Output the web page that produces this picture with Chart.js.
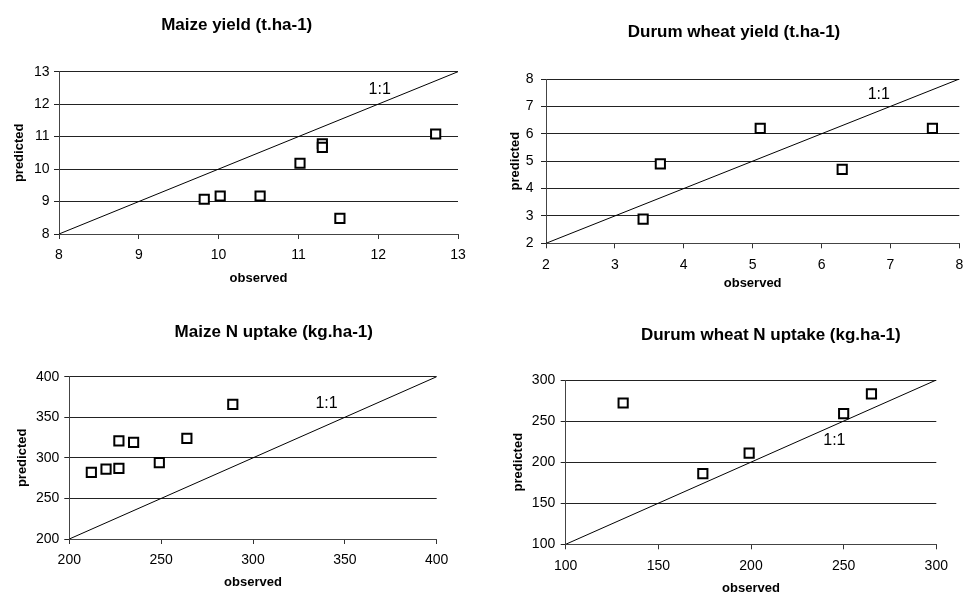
<!DOCTYPE html>
<html>
<head>
<meta charset="utf-8">
<script src="https://cdn.jsdelivr.net/npm/chart.js@4"></script>
<style>
  html, body { margin: 0; padding: 0; background: #fff; overflow: hidden; }
  #wrap { position: relative; width: 963px; height: 594px; overflow: hidden; }
  #wrap canvas { position: absolute; left: 0; top: 0; }
</style>
</head>
<body>
<div id="wrap">
  <canvas id="c1" width="1200" height="594"></canvas>
  <canvas id="c2" width="1200" height="594"></canvas>
  <canvas id="c3" width="1200" height="594"></canvas>
  <canvas id="c4" width="1200" height="594"></canvas>
</div>
<script>
// values
const panelTitles = ['Maize yield (t.ha-1)', 'Durum wheat yield (t.ha-1)', 'Maize N uptake (kg.ha-1)', 'Durum wheat N uptake (kg.ha-1)'];
const xAxisTitle = 'observed';
const yAxisTitle = 'predicted';
const lineLabel = '1:1';

const maizeYieldObs  = [9.82, 10.02, 10.52, 11.02, 11.30, 11.30, 11.52, 12.72];
const maizeYieldPred = [9.07, 9.17, 9.17, 10.18, 10.78, 10.67, 8.48, 11.08];
const durumYieldObs  = [3.41, 3.66, 5.11, 6.30, 7.61];
const durumYieldPred = [2.88, 4.90, 6.20, 4.70, 6.20];
const maizeNObs  = [212, 220, 227, 227, 235, 249, 264, 289];
const maizeNPred = [282, 286, 287, 321, 319, 294, 324, 366];
const durumNObs  = [131, 174, 199, 250, 265];
const durumNPred = [272, 186, 211, 259, 283];

// axis ranges: [min, max, step]
const maizeYieldRange = [8, 13, 1];
const durumYieldRange = [2, 8, 1];
const maizeNRange = [200, 400, 50];
const durumNRange = [100, 300, 50];

// where the "1:1" text sits, in data units
const labelAt = [[11.88, 12.46], [6.67, 7.42], [334, 367], [239, 226.6]];

// page layout of each panel (pixels)
const layouts = [
  { plotL: 59,    plotR: 458,   plotT: 71.7,  plotB: 234,   titleX: 236.7, titleY: 25.5,  xTitleY: 278,   yTitleX: 19.2,  yPad: 4.5 },
  { plotL: 546,   plotR: 959.3, plotT: 79,    plotB: 243.3, titleX: 734,   titleY: 32.5,  xTitleY: 283,   yTitleX: 515,   yPad: 7.5 },
  { plotL: 69.3,  plotR: 436.7, plotT: 376.7, plotB: 539,   titleX: 273.8, titleY: 332.5, xTitleY: 582.7, yTitleX: 22.8,  yPad: 5 },
  { plotL: 565.7, plotR: 936.3, plotT: 380,   plotB: 544.3, titleX: 770.8, titleY: 335.8, xTitleY: 588,   yTitleX: 518.3, yPad: 5.5 }
];

Chart.defaults.font.family = '"Liberation Sans", Arial, sans-serif';
Chart.defaults.color = '#000';

const oneToOneLabel = {
  id: 'oneToOne',
  afterDatasetsDraw(chart, args, opts) {
    const { ctx, scales } = chart;
    ctx.save();
    ctx.font = '16px "Liberation Sans", Arial, sans-serif';
    ctx.fillStyle = '#000';
    ctx.textAlign = 'left';
    ctx.textBaseline = 'middle';
    ctx.fillText(lineLabel, scales.x.getPixelForValue(opts.x), scales.y.getPixelForValue(opts.y));
    ctx.restore();
  }
};

function makePanel(id, title, obs, pred, range, label, lay) {
  const W = 1200, H = 594;
  const [min, max, step] = range;
  const padL = lay.yTitleX - 7.8;
  const padR = padL + W - 2 * lay.titleX;   // keeps the title centred where it was
  const right = W - padR;
  const padT = lay.titleY - 10.2;
  const xH = lay.xTitleY - lay.plotB + 7.8;

  return new Chart(document.getElementById(id), {
    type: 'scatter',
    data: {
      datasets: [
        {
          data: obs.map((x, i) => ({ x: x, y: pred[i] })),
          pointStyle: 'rect',
          pointRadius: 6.5,
          borderWidth: 2,
          borderColor: '#000',
          backgroundColor: '#fff',
          showLine: false
        },
        {
          data: [{ x: min, y: min }, { x: max, y: max }],
          showLine: true,
          pointRadius: 0,
          borderWidth: 1,
          borderColor: '#000'
        }
      ]
    },
    options: {
      responsive: false,
      animation: false,
      events: [],
      layout: { padding: { left: padL, right: padR, top: padT, bottom: H - lay.plotB - xH } },
      plugins: {
        legend: { display: false },
        tooltip: { enabled: false },
        title: {
          display: true,
          text: title,
          color: '#000',
          font: { size: 17, weight: 'bold' },
          padding: { top: 0, bottom: lay.plotT - padT - 20.4 }
        },
        oneToOne: { x: label[0], y: label[1] }
      },
      scales: {
        x: {
          type: 'linear',
          min: min,
          max: max,
          ticks: { stepSize: step, padding: 8, font: { size: 14 }, color: '#000' },
          grid: { drawOnChartArea: false, tickLength: 5, color: '#333' },
          border: { color: '#444', width: 1 },
          title: { display: true, text: xAxisTitle, font: { size: 13, weight: 'bold' }, padding: 0, color: '#000' },
          afterFit(s) {
            s.height = xH;
            s.paddingLeft = 0;
            s.paddingRight = 0;
          }
        },
        y: {
          type: 'linear',
          min: min,
          max: max,
          ticks: { stepSize: step, padding: lay.yPad, font: { size: 14 }, color: '#000' },
          grid: { tickLength: 5, color: '#222', lineWidth: 1 },
          border: { color: '#444', width: 1 },
          title: { display: true, text: yAxisTitle, font: { size: 13, weight: 'bold' }, padding: 0, color: '#000' },
          afterFit(s) {
            s.width = lay.plotL - padL;
            s.paddingTop = 0;
            s.paddingBottom = 0;
          }
        },
        // empty spacer on the right so the plot can be narrower than the title band
        spacer: {
          type: 'linear',
          position: 'right',
          ticks: { display: false },
          grid: { display: false, drawTicks: false },
          border: { display: false },
          afterFit(s) {
            s.width = right - lay.plotR;
            s.paddingTop = 0;
            s.paddingBottom = 0;
          }
        }
      }
    },
    plugins: [oneToOneLabel]
  });
}

makePanel('c1', panelTitles[0], maizeYieldObs, maizeYieldPred, maizeYieldRange, labelAt[0], layouts[0]);
makePanel('c2', panelTitles[1], durumYieldObs, durumYieldPred, durumYieldRange, labelAt[1], layouts[1]);
makePanel('c3', panelTitles[2], maizeNObs, maizeNPred, maizeNRange, labelAt[2], layouts[2]);
makePanel('c4', panelTitles[3], durumNObs, durumNPred, durumNRange, labelAt[3], layouts[3]);
</script>
</body>
</html>
